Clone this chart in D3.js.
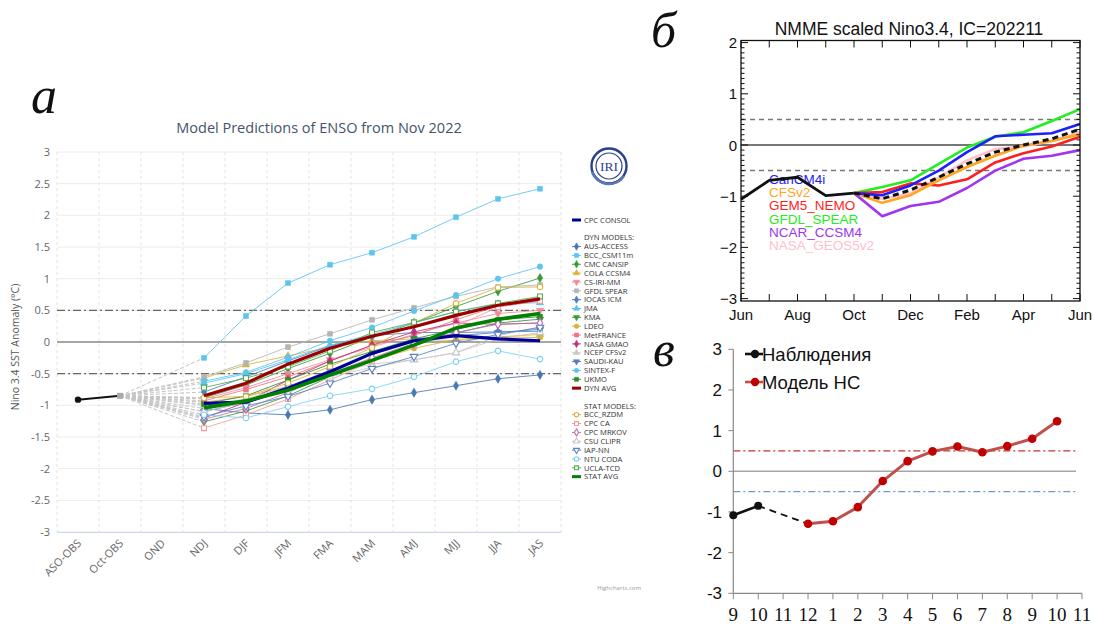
<!DOCTYPE html>
<html><head><meta charset="utf-8">
<script src="https://cdn.jsdelivr.net/npm/d3@7"></script>
<style>body{margin:0;background:#fff} svg{display:block}</style>
</head><body><svg id="c" width="1094" height="626"></svg>
<script>
// ---------- Panel а: IRI ENSO plume ----------
const seasonCats = ["ASO-OBS","Oct-OBS","OND","NDJ","DJF","JFM","FMA","MAM","AMJ","MJJ","JJA","JAS"];
const forecastCats = ["NDJ","DJF","JFM","FMA","MAM","AMJ","MJJ","JJA","JAS"];
const obsCats = ["ASO-OBS","Oct-OBS"];
const obsValues = [-0.91, -0.85];
const yTicksA = [-3,-2.5,-2,-1.5,-1,-0.5,0,0.5,1,1.5,2,2.5,3];

const dynNames = ["AUS-ACCESS","BCC_CSM11m","CMC CANSIP","COLA CCSM4","CS-IRI-MM","GFDL SPEAR","IOCAS ICM","JMA","KMA","LDEO","MetFRANCE","NASA GMAO","NCEP CFSv2","SAUDI-KAU","SINTEX-F","UKMO"];
const dynValues = [
  [-1.05,-1.12,-1.15,-1.07,-0.91,-0.80,-0.69,-0.58,-0.52],
  [-0.25, 0.41, 0.93, 1.22, 1.41, 1.66, 1.97, 2.26, 2.42],
  [-0.88,-0.68,-0.42,-0.18, 0.08, 0.30, 0.56, 0.80, 1.01],
  [-0.57,-0.36,-0.22,-0.08, 0.02, 0.05, 0.02, 0.08, 0.12],
  [-0.90,-0.72,-0.50,-0.28,-0.08, 0.12, 0.30, 0.45, 0.50],
  [-0.55,-0.33,-0.08, 0.13, 0.35, 0.54, 0.72, 0.87, 0.90],
  [-0.79,-0.55,-0.30,-0.06, 0.10, 0.15, 0.15, 0.16, 0.17],
  [-0.65,-0.50,-0.28,-0.05, 0.12, 0.30, 0.48, 0.60, 0.62],
  [-1.26,-1.09,-0.85,-0.55,-0.30,-0.06, 0.14, 0.30, 0.36],
  [-0.95,-0.86,-0.70,-0.50,-0.30,-0.10, 0.04, 0.08, 0.07],
  [-0.93,-0.75,-0.55,-0.30,-0.05, 0.10, 0.35, 0.57, 0.65],
  [-1.20,-0.95,-0.60,-0.30,-0.05, 0.16, 0.30, 0.28, 0.30],
  [-1.00,-0.90,-0.70,-0.50,-0.35,-0.28,-0.17, 0.10, 0.24],
  [-1.10,-0.95,-0.70,-0.45,-0.20, 0.05, 0.10, 0.15, 0.20],
  [-0.62,-0.48,-0.24, 0.02, 0.23, 0.49, 0.74, 1.00, 1.19],
  [-0.98,-0.85,-0.60,-0.35,-0.15, 0.05, 0.20, 0.35, 0.40]
];
const statNames = ["BCC_RZDM","CPC CA","CPC MRKOV","CSU CLIPR","IAP-NN","NTU CODA","UCLA-TCD"];
const statValues = [
  [-0.88,-0.86,-0.65,-0.39,-0.09, 0.30, 0.61, 0.86, 0.87],
  [-1.36,-1.15,-0.90,-0.60,-0.30,-0.05, 0.25, 0.55, 0.65],
  [-1.22,-1.05,-0.80,-0.50,-0.25,-0.02, 0.15, 0.28, 0.30],
  [-1.10,-0.95,-0.75,-0.55,-0.40,-0.28,-0.17, 0.05, 0.15],
  [-1.18,-1.01,-0.86,-0.65,-0.42,-0.23,-0.02, 0.12, 0.23],
  [-1.15,-1.20,-1.02,-0.85,-0.74,-0.55,-0.31,-0.14,-0.27],
  [-0.72,-0.57,-0.39,-0.14, 0.15, 0.31, 0.48, 0.61, 0.72]
];
const cpcConsol = [-0.97,-0.95,-0.73,-0.47,-0.18, 0.02, 0.10, 0.05, 0.02];
const dynAvg    = [-0.85,-0.65,-0.35,-0.10, 0.09, 0.24, 0.42, 0.58, 0.68];
const statAvg   = [-1.04,-0.93,-0.76,-0.52,-0.29,-0.05, 0.22, 0.36, 0.45];

// marker styles of the plume members
const dynStyles = [
  {c:"#4a78b0", s:"diamond"}, {c:"#5cc4ee", s:"square"}, {c:"#3a9a3a", s:"diamond"},
  {c:"#d6b43c", s:"triangle"}, {c:"#f28a9a", s:"triangle-down"}, {c:"#b4b4b4", s:"square"},
  {c:"#4f80c0", s:"diamond"}, {c:"#5cc4ee", s:"triangle"}, {c:"#3a9a3a", s:"triangle-down"},
  {c:"#d6b43c", s:"circle"}, {c:"#f27080", s:"square"}, {c:"#c0307f", s:"diamond"},
  {c:"#c8c8c8", s:"triangle"}, {c:"#4f80c0", s:"triangle-down"}, {c:"#5cc4ee", s:"circle"},
  {c:"#2e8b2e", s:"square"}
];
const statStyles = [
  {c:"#d6b43c", s:"circle"}, {c:"#f29aa0", s:"square"}, {c:"#c070b0", s:"diamond"},
  {c:"#c8c8c8", s:"triangle"}, {c:"#5a80c0", s:"triangle-down"}, {c:"#7fd0f0", s:"circle"},
  {c:"#55aa55", s:"square"}
];

// ---------- Panel б: NMME ----------
const nmmeMonths = ["Jun","Jul","Aug","Sep","Oct","Nov","Dec","Jan","Feb","Mar","Apr","May","Jun"];
const nmmeObs = [-1.06,-0.69,-0.63,-0.99,-0.94];
const nmmeNames = ["CanCM4i","CFSv2","GEM5_NEMO","GFDL_SPEAR","NCAR_CCSM4","NASA_GEOS5v2"];
const nmmeValues = [
  [-0.94,-0.98,-0.79,-0.50,-0.14, 0.17, 0.20, 0.23, 0.41],
  [-0.94,-1.13,-0.98,-0.69,-0.43,-0.21,-0.01, 0.08, 0.21],
  [-0.94,-0.92,-0.75,-0.79,-0.67,-0.34,-0.16,-0.03, 0.16],
  [-0.94,-0.82,-0.69,-0.37,-0.05, 0.16, 0.25, 0.47, 0.70],
  [-0.94,-1.39,-1.19,-1.11,-0.84,-0.50,-0.27,-0.21,-0.10],
  [-0.94,-1.05,-0.95,-0.63,-0.30,-0.08,-0.03, 0.08, 0.25]
];
const nmmeMean = [-0.94,-1.05,-0.88,-0.63,-0.37,-0.14, 0.00, 0.12, 0.31];
const nmmeColors = ["#1e1eff","#ffa51e","#ff1e1e","#22ee22","#a034f0","#ffc0cb"];
const yTicksB = [2,1,0,-1,-2,-3];

// ---------- Panel в: forecast ----------
const monthsC = ["9","10","11","12","1","2","3","4","5","6","7","8","9","10","11"];
const obsC = [-1.08,-0.85];           // months 9, 10
const modelC = [-1.29,-1.23,-0.88,-0.24,0.25,0.49,0.61,0.47,0.62,0.80,1.23]; // 12 .. 10
const yTicksC = [3,2,1,0,-1,-2,-3];

const svg = d3.select("#c");

function symbolPath(shape, size){
  const t = {circle:d3.symbolCircle, square:d3.symbolSquare, diamond:d3.symbolDiamond,
             triangle:d3.symbolTriangle, "triangle-down":d3.symbolTriangle}[shape];
  return d3.symbol().type(t).size(size)();
}
function drawMarker(g, x, y, st, open, size){
  g.append("path").attr("d", symbolPath(st.s, size))
    .attr("transform", `translate(${x},${y})` + (st.s==="triangle-down"?" rotate(180)":""))
    .attr("fill", open ? "#fff" : st.c).attr("stroke", st.c).attr("stroke-width", open?1.1:0.6);
}

// ===== Panel а =====
{
  const xA = d3.scalePoint().domain(seasonCats).range([78, 540]);
  const yA = d3.scaleLinear().domain([-3, 3]).range([532, 152]);
  const step = xA.step();
  const left = xA(seasonCats[0]) - step/2, right = xA(seasonCats[seasonCats.length-1]) + step/2;
  const g = svg.append("g");

  // horizontal grid
  g.selectAll("line.hg").data(yTicksA).join("line")
    .attr("x1", left).attr("x2", right).attr("y1", d=>yA(d)).attr("y2", d=>yA(d))
    .attr("stroke", "#ececec").attr("stroke-width", 1);
  // vertical dashed grid at category boundaries
  g.selectAll("line.vg").data(d3.range(seasonCats.length+1)).join("line")
    .attr("x1", i=>left+i*step).attr("x2", i=>left+i*step)
    .attr("y1", yA(3)).attr("y2", yA(-3))
    .attr("stroke", "#e2e2e2").attr("stroke-dasharray", "3,3");
  // x axis baseline
  g.append("line").attr("x1", left).attr("x2", right).attr("y1", yA(-3)+0.5).attr("y2", yA(-3)+0.5)
    .attr("stroke", "#ccd6eb");
  // reference lines
  g.append("line").attr("x1", left).attr("x2", right).attr("y1", yA(0)).attr("y2", yA(0))
    .attr("stroke", "#8a8a8a").attr("stroke-width", 1.6);
  [0.5, -0.5].forEach(v => g.append("line").attr("x1", left).attr("x2", right)
    .attr("y1", yA(v)).attr("y2", yA(v)).attr("stroke", "#666")
    .attr("stroke-width", 1.2).attr("stroke-dasharray", "8,3,2,3"));

  // y axis labels
  const ax = g.append("g").attr("transform", `translate(${left},0)`)
    .call(d3.axisLeft(yA).tickValues(yTicksA).tickSize(0).tickPadding(7).tickFormat(d=>String(d)));
  ax.select(".domain").remove();
  ax.selectAll("text").attr("font-family", "Open Sans").attr("font-size", 11).attr("fill", "#666");

  // x labels, rotated
  g.selectAll("text.xl").data(seasonCats).join("text")
    .attr("transform", d=>`translate(${xA(d)+4},${yA(-3)+12}) rotate(-45)`)
    .attr("text-anchor", "end").attr("font-family", "Open Sans").attr("font-size", 11)
    .attr("fill", "#666").text(d=>d);

  // y title
  g.append("text").attr("transform", `translate(19,${(yA(3)+yA(-3))/2+5}) rotate(-90)`)
    .attr("text-anchor", "middle").attr("font-family", "Open Sans").attr("font-size", 10.5)
    .attr("fill", "#555").text("Nino 3.4 SST Anomaly (°C)");

  // title
  g.append("text").attr("x", 319).attr("y", 133).attr("text-anchor", "middle")
    .attr("font-family", "Open Sans").attr("font-size", 14.5).attr("fill", "#44546a")
    .text("Model Predictions of ENSO from Nov 2022");

  const lineA = d3.line().x(d=>xA(d.c)).y(d=>yA(d.v));
  const toPts = vals => vals.map((v,i)=>({c:forecastCats[i], v}));
  const lastObs = {c:obsCats[1], v:obsValues[1]};

  // dashed connectors from last observation to each first forecast
  const allFirst = dynValues.concat(statValues).map(v=>v[0]);
  g.selectAll("line.con").data(allFirst).join("line")
    .attr("x1", xA(lastObs.c)).attr("y1", yA(lastObs.v))
    .attr("x2", xA(forecastCats[0])).attr("y2", d=>yA(d))
    .attr("stroke", "#c4c4c4").attr("stroke-width", 1).attr("stroke-dasharray", "4,2");

  // observations
  g.append("path").attr("d", lineA(obsCats.map((c,i)=>({c, v:obsValues[i]}))))
    .attr("fill", "none").attr("stroke", "#111").attr("stroke-width", 2);
  g.append("circle").attr("cx", xA(obsCats[0])).attr("cy", yA(obsValues[0])).attr("r", 3.2).attr("fill", "#111");
  g.append("rect").attr("x", xA(obsCats[1])-3).attr("y", yA(obsValues[1])-3).attr("width", 6).attr("height", 6).attr("fill", "#aaa");

  // plume members
  function member(vals, st, open){
    g.append("path").attr("d", lineA(toPts(vals))).attr("fill", "none")
      .attr("stroke", st.c).attr("stroke-width", 1).attr("stroke-opacity", 0.85);
    toPts(vals).forEach(p => drawMarker(g, xA(p.c), yA(p.v), st, open, open?24:24));
  }
  dynValues.forEach((v,i)=>member(v, dynStyles[i], false));
  statValues.forEach((v,i)=>member(v, statStyles[i], true));

  // consensus and averages
  [[cpcConsol,"#000099",3.2],[dynAvg,"#990000",3.2],[statAvg,"#008000",3.6]].forEach(([v,c,w])=>{
    g.append("path").attr("d", lineA(toPts(v))).attr("fill","none").attr("stroke", c)
      .attr("stroke-width", w).attr("stroke-linejoin","round");
  });

  // legend
  const lg = g.append("g").attr("font-family", "Open Sans").attr("font-size", 7.6).attr("fill", "#333");
  const ly = r => 220 + r*8.85;
  const lx1 = 572, lx2 = 581, ltx = 584;
  function thickItem(r, c, label){
    lg.append("line").attr("x1", lx1).attr("x2", lx2).attr("y1", ly(r)).attr("y2", ly(r))
      .attr("stroke", c).attr("stroke-width", 3);
    lg.append("text").attr("x", ltx).attr("y", ly(r)+2.7).text(label);
  }
  function markItem(r, st, open, label){
    lg.append("line").attr("x1", lx1).attr("x2", lx2).attr("y1", ly(r)).attr("y2", ly(r))
      .attr("stroke", st.c).attr("stroke-width", 1);
    drawMarker(lg, (lx1+lx2)/2, ly(r), st, open, open?15:16);
    lg.append("text").attr("x", ltx).attr("y", ly(r)+2.7).text(label);
  }
  thickItem(0, "#000099", "CPC CONSOL");
  lg.append("text").attr("x", ltx).attr("y", ly(2)+2.7).text("DYN MODELS:");
  dynNames.forEach((n,i)=>markItem(3+i, dynStyles[i], false, n));
  thickItem(19, "#990000", "DYN AVG");
  lg.append("text").attr("x", ltx).attr("y", ly(21)+2.7).text("STAT MODELS:");
  statNames.forEach((n,i)=>markItem(22+i, statStyles[i], true, n));
  thickItem(29, "#008000", "STAT AVG");

  // IRI emblem
  const logo = g.append("g").attr("transform", "translate(609,166)");
  logo.append("circle").attr("r", 17.5).attr("fill", "none").attr("stroke", "#2b3f8f").attr("stroke-width", 2.4);
  logo.append("circle").attr("r", 13).attr("fill", "none").attr("stroke", "#2b3f8f").attr("stroke-width", 1.2);
  logo.append("path").attr("d", "M-17,6 A18,18 0 0 0 15,10").attr("fill","none").attr("stroke","#5a78c0").attr("stroke-width",2.5);
  logo.append("text").attr("y", 4.5).attr("text-anchor", "middle").attr("font-family", "Liberation Serif")
    .attr("font-size", 13.5).attr("fill", "#2b3f8f").text("IRI");

  g.append("text").attr("x", 641).attr("y", 590).attr("text-anchor", "end").attr("font-family", "Open Sans")
    .attr("font-size", 6).attr("fill", "#999").text("Highcharts.com");

  g.append("text").attr("x", 31).attr("y", 113).attr("font-family", "Liberation Serif").attr("font-style", "italic")
    .attr("font-size", 52).attr("fill", "#111").text("а");
}

// ===== Panel б =====
{
  const xB = d3.scaleLinear().domain([0, 12]).range([741, 1080]);
  const yB = d3.scaleLinear().domain([-3, 2]).range([298.6, 42.6]);
  const top = 40.5, bot = 301;
  const g = svg.append("g");
  const font = "Liberation Sans";

  g.append("text").attr("x", 909).attr("y", 35).attr("text-anchor", "middle").attr("font-family", font)
    .attr("font-size", 17.5).attr("fill", "#111").text("NMME scaled Nino3.4, IC=202211");

  // reference lines
  g.append("line").attr("x1", xB(0)).attr("x2", xB(12)).attr("y1", yB(0)).attr("y2", yB(0))
    .attr("stroke", "#777").attr("stroke-width", 2);
  [0.5,-0.5].forEach(v => g.append("line").attr("x1", xB(0)).attr("x2", xB(12)).attr("y1", yB(v)).attr("y2", yB(v))
    .attr("stroke", "#777").attr("stroke-width", 1.5).attr("stroke-dasharray", "5,4"));

  // labels of the members
  const labY = [183.5, 197, 210, 223.5, 236.5, 250];
  nmmeNames.forEach((n,i)=>g.append("text").attr("x", 769).attr("y", labY[i]).attr("font-family", font)
    .attr("font-size", 13.5).attr("fill", nmmeColors[i]).text(n));

  const lineB = d3.line().x((d,i)=>xB(d.m)).y(d=>yB(d.v));
  g.append("path").attr("d", lineB(nmmeObs.map((v,i)=>({m:i, v})))).attr("fill","none")
    .attr("stroke", "#111").attr("stroke-width", 2.8).attr("stroke-linejoin","round");
  const drawOrder = [5,4,3,2,1,0];
  drawOrder.forEach(i=>{
    g.append("path").attr("d", lineB(nmmeValues[i].map((v,k)=>({m:4+k, v})))).attr("fill","none")
      .attr("stroke", nmmeColors[i]).attr("stroke-width", 2.6).attr("stroke-linejoin","round");
  });
  g.append("path").attr("d", lineB(nmmeMean.map((v,k)=>({m:4+k, v})))).attr("fill","none")
    .attr("stroke", "#111").attr("stroke-width", 3).attr("stroke-dasharray", "6,4");

  // frame and ticks
  g.append("rect").attr("x", xB(0)).attr("y", top).attr("width", xB(12)-xB(0)).attr("height", bot-top)
    .attr("fill", "none").attr("stroke", "#111").attr("stroke-width", 1.3);
  const minor = d3.range(-30, 21).map(d=>d/10);
  minor.forEach(v=>{
    const major = Math.abs(v - Math.round(v)) < 1e-6;
    const L = major ? 7 : 3.5;
    if (yB(v) < top || yB(v) > bot) return;
    g.append("line").attr("x1", xB(0)).attr("x2", xB(0)+L).attr("y1", yB(v)).attr("y2", yB(v)).attr("stroke","#111");
    g.append("line").attr("x1", xB(12)).attr("x2", xB(12)-L).attr("y1", yB(v)).attr("y2", yB(v)).attr("stroke","#111");
  });
  d3.range(13).forEach(m=>{
    g.append("line").attr("x1", xB(m)).attr("x2", xB(m)).attr("y1", bot).attr("y2", bot-7).attr("stroke","#111");
    g.append("line").attr("x1", xB(m)).attr("x2", xB(m)).attr("y1", top).attr("y2", top+7).attr("stroke","#111");
  });
  yTicksB.forEach(v=>g.append("text").attr("x", 737).attr("y", yB(v)+5.5).attr("text-anchor","end")
    .attr("font-family", font).attr("font-size", 15).attr("fill","#111").text(v<0?"\u2212"+Math.abs(v):String(v)));
  nmmeMonths.forEach((m,i)=>{ if(i%2===0) g.append("text").attr("x", xB(i)).attr("y", 320).attr("text-anchor","middle")
    .attr("font-family", font).attr("font-size", 15).attr("fill","#111").text(m); });

  g.append("text").attr("x", 651).attr("y", 47).attr("font-family", "Liberation Serif").attr("font-style", "italic")
    .attr("font-size", 50).attr("fill", "#111").text("б");
}

// ===== Panel в =====
{
  const xC = d3.scaleLinear().domain([0, 14]).range([733.3, 1082]);
  const yC = d3.scaleLinear().domain([-3, 3]).range([593.3, 349.3]);
  const g = svg.append("g");

  g.append("line").attr("x1", xC(0)).attr("x2", 1076).attr("y1", yC(0)).attr("y2", yC(0))
    .attr("stroke", "#a6a6a6").attr("stroke-width", 1.6);
  g.append("line").attr("x1", xC(0)).attr("x2", 1076).attr("y1", yC(0.5)).attr("y2", yC(0.5))
    .attr("stroke", "#c0392b").attr("stroke-width", 1.3).attr("stroke-dasharray", "7,3,2,3");
  g.append("line").attr("x1", xC(0)).attr("x2", 1076).attr("y1", yC(-0.5)).attr("y2", yC(-0.5))
    .attr("stroke", "#6f9bd1").attr("stroke-width", 1.3).attr("stroke-dasharray", "7,3,2,3");

  // axes
  g.append("line").attr("x1", xC(0)).attr("x2", xC(0)).attr("y1", yC(3)).attr("y2", yC(-3)).attr("stroke", "#888").attr("stroke-width", 1.2);
  g.append("line").attr("x1", xC(0)).attr("x2", xC(14)).attr("y1", yC(-3)).attr("y2", yC(-3)).attr("stroke", "#888").attr("stroke-width", 1.2);
  yTicksC.forEach(v=>{
    g.append("line").attr("x1", xC(0)-5).attr("x2", xC(0)).attr("y1", yC(v)).attr("y2", yC(v)).attr("stroke","#888");
    g.append("text").attr("x", 722).attr("y", yC(v)+6).attr("text-anchor","end").attr("font-family","Liberation Sans")
      .attr("font-size", 17).attr("fill","#111").text(String(v));
  });
  monthsC.forEach((m,i)=>{
    g.append("line").attr("x1", xC(i)).attr("x2", xC(i)).attr("y1", yC(-3)).attr("y2", yC(-3)+6).attr("stroke","#888");
    g.append("text").attr("x", xC(i)).attr("y", 621).attr("text-anchor","middle").attr("font-family","Liberation Serif")
      .attr("font-size", 19).attr("fill","#111").text(m);
  });

  const lineC = d3.line().x(d=>xC(d.i)).y(d=>yC(d.v));
  const obsPts = obsC.map((v,i)=>({i, v}));
  const modPts = modelC.map((v,k)=>({i:3+k, v}));
  g.append("path").attr("d", lineC([obsPts[1], modPts[0]])).attr("fill","none")
    .attr("stroke","#111").attr("stroke-width", 1.8).attr("stroke-dasharray","7,5");
  g.append("path").attr("d", lineC(obsPts)).attr("fill","none").attr("stroke","#111").attr("stroke-width", 2.6);
  obsPts.forEach(p=>g.append("circle").attr("cx", xC(p.i)).attr("cy", yC(p.v)).attr("r", 4).attr("fill","#111"));
  g.append("path").attr("d", lineC(modPts)).attr("fill","none").attr("stroke","#c0504d").attr("stroke-width", 3)
    .attr("stroke-linejoin","round");
  modPts.forEach(p=>g.append("circle").attr("cx", xC(p.i)).attr("cy", yC(p.v)).attr("r", 4.3).attr("fill","#c00000"));

  // legend
  [["Наблюдения", "#111", "#111", 354], ["Модель НС", "#c0504d", "#c00000", 382]].forEach(([t, lc, mc, y])=>{
    g.append("line").attr("x1", 745).attr("x2", 763).attr("y1", y).attr("y2", y).attr("stroke", lc).attr("stroke-width", 2.6);
    g.append("circle").attr("cx", 755).attr("cy", y).attr("r", 4.2).attr("fill", mc);
    g.append("text").attr("x", 762).attr("y", y+6.5).attr("font-family","Liberation Sans").attr("font-size", 18.5)
      .attr("fill","#111").text(t);
  });

  g.append("text").attr("x", 653).attr("y", 366).attr("font-family", "Liberation Serif").attr("font-style", "italic")
    .attr("font-size", 50).attr("fill", "#111").text("в");
}
</script></body></html>
